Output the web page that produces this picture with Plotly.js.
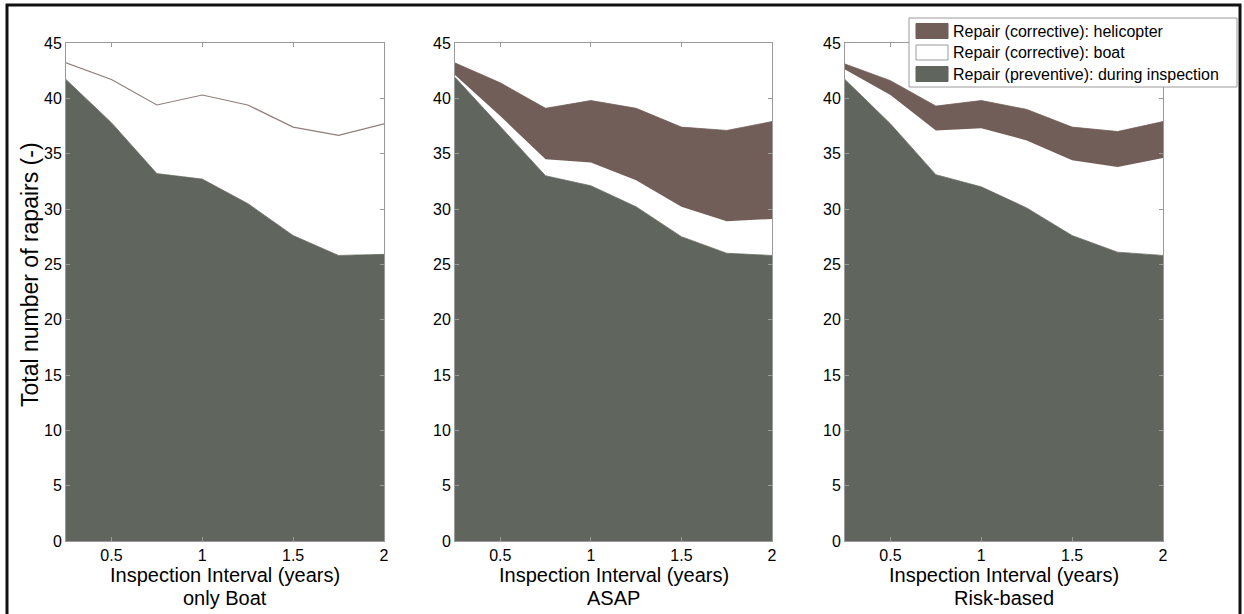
<!DOCTYPE html>
<html>
<head>
<meta charset="utf-8">
<script src="https://cdn.plot.ly/plotly-3.0.1.min.js"></script>
<style>html,body{margin:0;padding:0;background:#fff;}#chart{width:1244px;height:614px;}</style>
</head>
<body>
<div id="chart"></div>
<script>
// ---- data (cumulative stack levels) ----
const intervals = [0.25, 0.5, 0.75, 1, 1.25, 1.5, 1.75, 2];
const xTickVals = [0.5, 1, 1.5, 2];
const xTickText = ['0.5', '1', '1.5', '2'];
const yTickVals = [0, 5, 10, 15, 20, 25, 30, 35, 40, 45];

const scenarioNames = ['only Boat', 'ASAP', 'Risk-based'];
const seriesNames = ['Repair (corrective): helicopter', 'Repair (corrective): boat', 'Repair (preventive): during inspection'];

// only Boat
const preventive1 = [41.7, 37.8, 33.2, 32.7, 30.5, 27.6, 25.8, 25.9];
const boatTop1    = [43.2, 41.7, 39.4, 40.3, 39.4, 37.4, 36.65, 37.7];
const total1      = [43.2, 41.7, 39.4, 40.3, 39.4, 37.4, 36.65, 37.7];
// ASAP
const preventive2 = [41.9, 37.4, 33.0, 32.1, 30.2, 27.5, 26.0, 25.8];
const boatTop2    = [42.1, 38.4, 34.5, 34.2, 32.6, 30.2, 28.9, 29.1];
const total2      = [43.2, 41.4, 39.1, 39.8, 39.1, 37.4, 37.1, 37.9];
// Risk-based
const preventive3 = [41.7, 37.7, 33.1, 32.0, 30.1, 27.6, 26.1, 25.8];
const boatTop3    = [42.6, 40.3, 37.1, 37.3, 36.2, 34.4, 33.8, 34.6];
const total3      = [43.1, 41.6, 39.3, 39.8, 39.0, 37.4, 37.0, 37.9];

const colPrev = '#60655d';
const colHeli = '#725e58';
const colAxis = '#9a9a9a';
const FONT = 'Liberation Sans, Arial, Helvetica, sans-serif';

const W = 1244, H = 614;
const px = v => v / W;
const py = v => 1 - v / H;

const stacks = [
  [preventive1, boatTop1, total1],
  [preventive2, boatTop2, total2],
  [preventive3, boatTop3, total3]
];
const xDomains = [[66, 384], [455, 772], [845, 1163]];
const yDomain = [py(541), py(43)];

const traces = [];
const layout = {
  width: W, height: H,
  margin: {l: 0, r: 0, t: 0, b: 0},
  paper_bgcolor: '#fff', plot_bgcolor: '#fff',
  showlegend: false,
  font: {family: FONT, color: '#000'},
  shapes: [], annotations: []
};

stacks.forEach((s, i) => {
  const n = i === 0 ? '' : String(i + 1);
  const xa = 'x' + n, ya = 'y' + n;
  traces.push({x: intervals, y: s[0], xaxis: xa, yaxis: ya, type: 'scatter', mode: 'lines',
    fill: 'tozeroy', fillcolor: colPrev, line: {color: colPrev, width: 0.8}, name: seriesNames[2], hoverinfo: 'x+y'});
  traces.push({x: intervals, y: s[1], xaxis: xa, yaxis: ya, type: 'scatter', mode: 'lines',
    fill: 'tonexty', fillcolor: '#ffffff', line: {color: '#ffffff', width: 0}, name: seriesNames[1], hoverinfo: 'x+y'});
  traces.push({x: intervals, y: s[2], xaxis: xa, yaxis: ya, type: 'scatter', mode: 'lines',
    fill: 'tonexty', fillcolor: colHeli, line: {color: i === 0 ? '#8e7f7b' : colHeli, width: i === 0 ? 1.2 : 0.8}, name: seriesNames[0], hoverinfo: 'x+y'});

  const axBase = {
    showline: true, linecolor: colAxis, linewidth: 1, mirror: 'ticks',
    ticks: 'inside', ticklen: 4, tickcolor: colAxis, tickwidth: 1,
    showgrid: false, zeroline: false,
    tickfont: {family: FONT, size: 16, color: '#000'}
  };
  layout['xaxis' + n] = Object.assign({}, axBase, {
    domain: [px(xDomains[i][0]), px(xDomains[i][1])], range: [0.25, 2],
    tickvals: xTickVals, ticktext: xTickText, anchor: ya
  });
  layout['yaxis' + n] = Object.assign({}, axBase, {
    domain: yDomain, range: [0, 45], tickvals: yTickVals, anchor: xa
  });

  const cx = px((xDomains[i][0] + xDomains[i][1]) / 2);
  layout.annotations.push({xref: 'paper', yref: 'paper', x: cx, y: py(575), xanchor: 'center', yanchor: 'middle',
    text: 'Inspection Interval (years)', showarrow: false, font: {family: FONT, size: 20, color: '#000'}});
  layout.annotations.push({xref: 'paper', yref: 'paper', x: cx, y: py(598), xanchor: 'center', yanchor: 'middle',
    text: scenarioNames[i], showarrow: false, font: {family: FONT, size: 20, color: '#000'}});
});

// y-axis title
layout.annotations.push({xref: 'paper', yref: 'paper', x: px(30), y: py(275), xanchor: 'center', yanchor: 'middle',
  text: 'Total number of rapairs (-)', textangle: -90, showarrow: false, font: {family: FONT, size: 23, color: '#000'}});

// outer frame
layout.shapes.push({type: 'rect', xref: 'paper', yref: 'paper', x0: px(7), x1: px(1240), y0: py(625), y1: py(5),
  line: {color: '#111', width: 3}, fillcolor: 'rgba(0,0,0,0)', layer: 'above'});

// legend box
layout.shapes.push({type: 'rect', xref: 'paper', yref: 'paper', x0: px(909), x1: px(1237), y0: py(87), y1: py(18),
  line: {color: colAxis, width: 1}, fillcolor: '#ffffff', layer: 'above'});
const legendRows = [31, 52.5, 74];
const swatchFill = [colHeli, '#ffffff', colPrev];
const swatchLine = [colHeli, colAxis, colPrev];
legendRows.forEach((cy, k) => {
  layout.shapes.push({type: 'rect', xref: 'paper', yref: 'paper', x0: px(916), x1: px(948), y0: py(cy + 7.5), y1: py(cy - 7.5),
    line: {color: swatchLine[k], width: 1}, fillcolor: swatchFill[k], layer: 'above'});
  layout.annotations.push({xref: 'paper', yref: 'paper', x: px(951), y: py(cy), xanchor: 'left', yanchor: 'middle',
    text: seriesNames[k], showarrow: false, font: {family: FONT, size: 16, color: '#000'}});
});

Plotly.newPlot('chart', traces, layout, {displayModeBar: false, staticPlot: true});
</script>
</body>
</html>
